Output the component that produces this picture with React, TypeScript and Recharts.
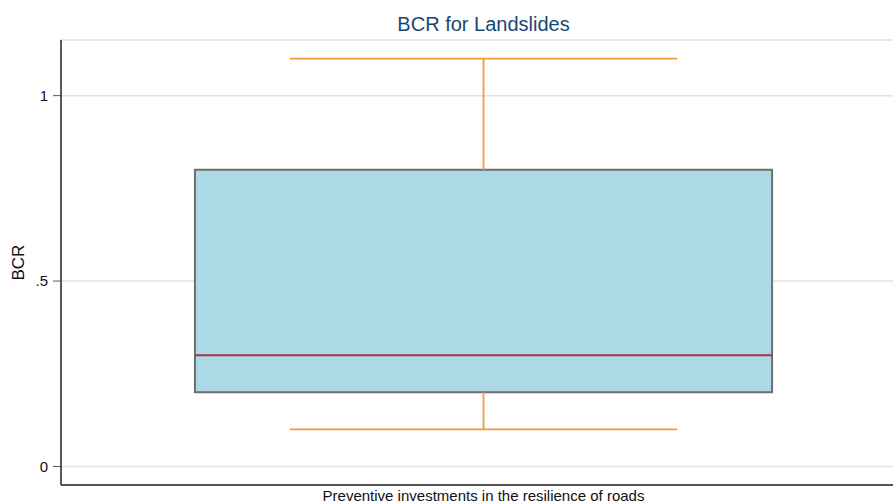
import React from 'react';
import {
  ComposedChart,
  XAxis,
  YAxis,
  CartesianGrid,
  ReferenceArea,
  ReferenceLine,
  Scatter,
} from 'recharts';

// box plot summary for the single group
const categories = ['Preventive investments in the resilience of roads'];
const lowerWhisker = [0.1];
const q1 = [0.2];
const median = [0.3];
const q3 = [0.8];
const upperWhisker = [1.1];

const yTicks = [0, 0.5, 1];
const yTickLabels = ['0', '.5', '1'];

const FONT = '"Liberation Sans", Arial, Helvetica, sans-serif';

// group sits at x = 1 on a 0..2 axis
const data = categories.map((name, i) => ({
  name,
  x: i + 1,
  lo: lowerWhisker[i],
  q1: q1[i],
  med: median[i],
  q3: q3[i],
  hi: upperWhisker[i],
}));

const BOX_HALF = 0.683;
const CAP_HALF = 0.458;

const fmtTick = (v: number) => {
  const idx = yTicks.indexOf(v);
  return idx >= 0 ? yTickLabels[idx] : String(v);
};

export default function App() {
  const d = data[0];
  return (
    <div
      style={{
        position: 'absolute',
        left: 0,
        top: 0,
        width: 893,
        height: 504,
        overflow: 'hidden',
        background: '#fff',
        fontFamily: FONT,
      }}
    >
      <div
        style={{
          position: 'absolute',
          left: 0,
          width: 967,
          top: 13,
          textAlign: 'center',
          fontSize: 20,
          color: '#1a476f',
        }}
      >
        BCR for Landslides
      </div>
      <ComposedChart
        width={906}
        height={504}
        data={data}
        margin={{ top: 40, right: 0, bottom: 0, left: 0 }}
      >
        <CartesianGrid horizontal vertical={false} stroke="#e2e2e2" strokeWidth={1.5} />
        <XAxis
          xAxisId="b"
          dataKey="x"
          type="number"
          domain={[0, 2]}
          tick={false}
          tickLine={false}
          axisLine={{ stroke: '#222', strokeWidth: 1.5 }}
          height={19}
          label={{
            value: categories[0],
            position: 'insideBottom',
            offset: 3,
            fontSize: 15,
            fill: '#111',
            fontFamily: FONT,
          }}
        />
        <XAxis
          xAxisId="t"
          orientation="top"
          dataKey="x"
          type="number"
          domain={[0, 2]}
          tick={false}
          tickLine={false}
          axisLine={{ stroke: '#222', strokeWidth: 1.5 }}
          height={0}
        />
        <YAxis
          type="number"
          domain={[-0.05, 1.15]}
          ticks={yTicks}
          tickFormatter={fmtTick}
          width={61}
          tickSize={8}
          tickMargin={5}
          allowDataOverflow
          axisLine={{ stroke: '#222', strokeWidth: 1.5 }}
          tickLine={{ stroke: '#555' }}
          tick={{ fontSize: 15, fill: '#111', fontFamily: FONT }}
          label={{
            value: 'BCR',
            angle: -90,
            position: 'insideLeft',
            offset: 18,
            dy: 18,
            fontSize: 17,
            fill: '#111',
            fontFamily: FONT,
          }}
        />
        <ReferenceArea
          xAxisId="b"
          x1={d.x - BOX_HALF}
          x2={d.x + BOX_HALF}
          y1={d.q1}
          y2={d.q3}
          fill="#add8e6"
          fillOpacity={1}
          stroke="#6e6e6e"
          strokeWidth={2}
        />
        <ReferenceLine
          xAxisId="b"
          segment={[{ x: d.x - BOX_HALF, y: d.med }, { x: d.x + BOX_HALF, y: d.med }]}
          stroke="#a8323e"
          strokeWidth={2}
        />
        <ReferenceLine
          xAxisId="b"
          segment={[{ x: d.x, y: d.q3 }, { x: d.x, y: d.hi }]}
          stroke="#f39a38"
          strokeWidth={1.8}
        />
        <ReferenceLine
          xAxisId="b"
          segment={[{ x: d.x, y: d.q1 }, { x: d.x, y: d.lo }]}
          stroke="#f39a38"
          strokeWidth={1.8}
        />
        <ReferenceLine
          xAxisId="b"
          segment={[{ x: d.x - CAP_HALF, y: d.hi }, { x: d.x + CAP_HALF, y: d.hi }]}
          stroke="#f39a38"
          strokeWidth={1.8}
        />
        <ReferenceLine
          xAxisId="b"
          segment={[{ x: d.x - CAP_HALF, y: d.lo }, { x: d.x + CAP_HALF, y: d.lo }]}
          stroke="#f39a38"
          strokeWidth={1.8}
        />
        <Scatter xAxisId="b" dataKey="med" fill="none" isAnimationActive={false} />
      </ComposedChart>
    </div>
  );
}
